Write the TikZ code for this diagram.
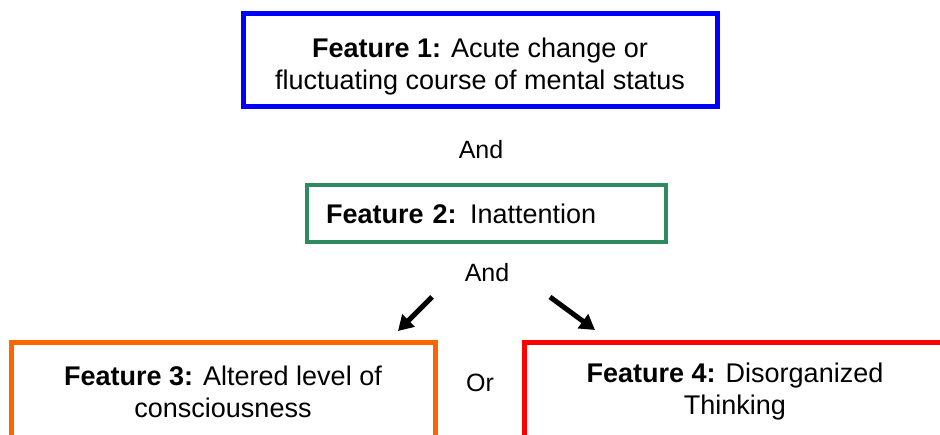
\documentclass[tikz,border=0pt]{standalone}
\usepackage{fontspec}
\setmainfont{Liberation Sans}
\usetikzlibrary{arrows.meta}
\definecolor{fblue}{RGB}{0,0,255}
\definecolor{fgreen}{RGB}{46,139,96}
\definecolor{forange}{RGB}{255,102,0}
\definecolor{fred}{RGB}{255,0,0}
\tikzset{
  featbox/.style={draw, line width=5pt, rectangle, align=center, inner sep=0pt,
    font=\fontsize{27}{32}\selectfont},
  lbl/.style={font=\fontsize{25}{28}\selectfont, inner sep=0pt},
  bigarrow/.style={line width=5pt, -{Triangle[length=15pt,width=17pt]}}
}
\begin{document}
\begin{tikzpicture}[x=1pt,y=1pt]
\useasboundingbox (0,0) rectangle (940,-435);
\clip (0,0) rectangle (940,-435);
\node[featbox, draw=fblue, minimum width=474, minimum height=93] (f1) at (480,-60.5)
  {\rule{0pt}{31pt}\textbf{Feature 1:} Acute change or\\fluctuating course of mental status};
\node[lbl] (and1) at (481,-150) {And};
\node[featbox, draw=fgreen, line width=4pt, minimum height=57, text width=321, align=left, inner xsep=19pt] (f2) at (486.5,-214)
  {\textbf{Feature 2:} Inattention};
\node[lbl] (and2) at (487,-273) {And};
\node[featbox, draw=forange, minimum width=424, minimum height=98] (f3) at (223,-392)
  {\textbf{Feature 3:} Altered level of\\consciousness};
\node[lbl] (or) at (480,-383) {Or};
\node[featbox, draw=fred, minimum width=422, minimum height=98] (f4) at (735,-392)
  {\textbf{Feature 4:} Disorganized\\Thinking};
\coordinate (a1s) at (432,-297);
\coordinate (a1e) at (398,-331);
\coordinate (a2s) at (550,-297);
\coordinate (a2e) at (595,-330);
\draw[bigarrow] (a1s) -- (a1e);
\draw[bigarrow] (a2s) -- (a2e);
\end{tikzpicture}
\end{document}
